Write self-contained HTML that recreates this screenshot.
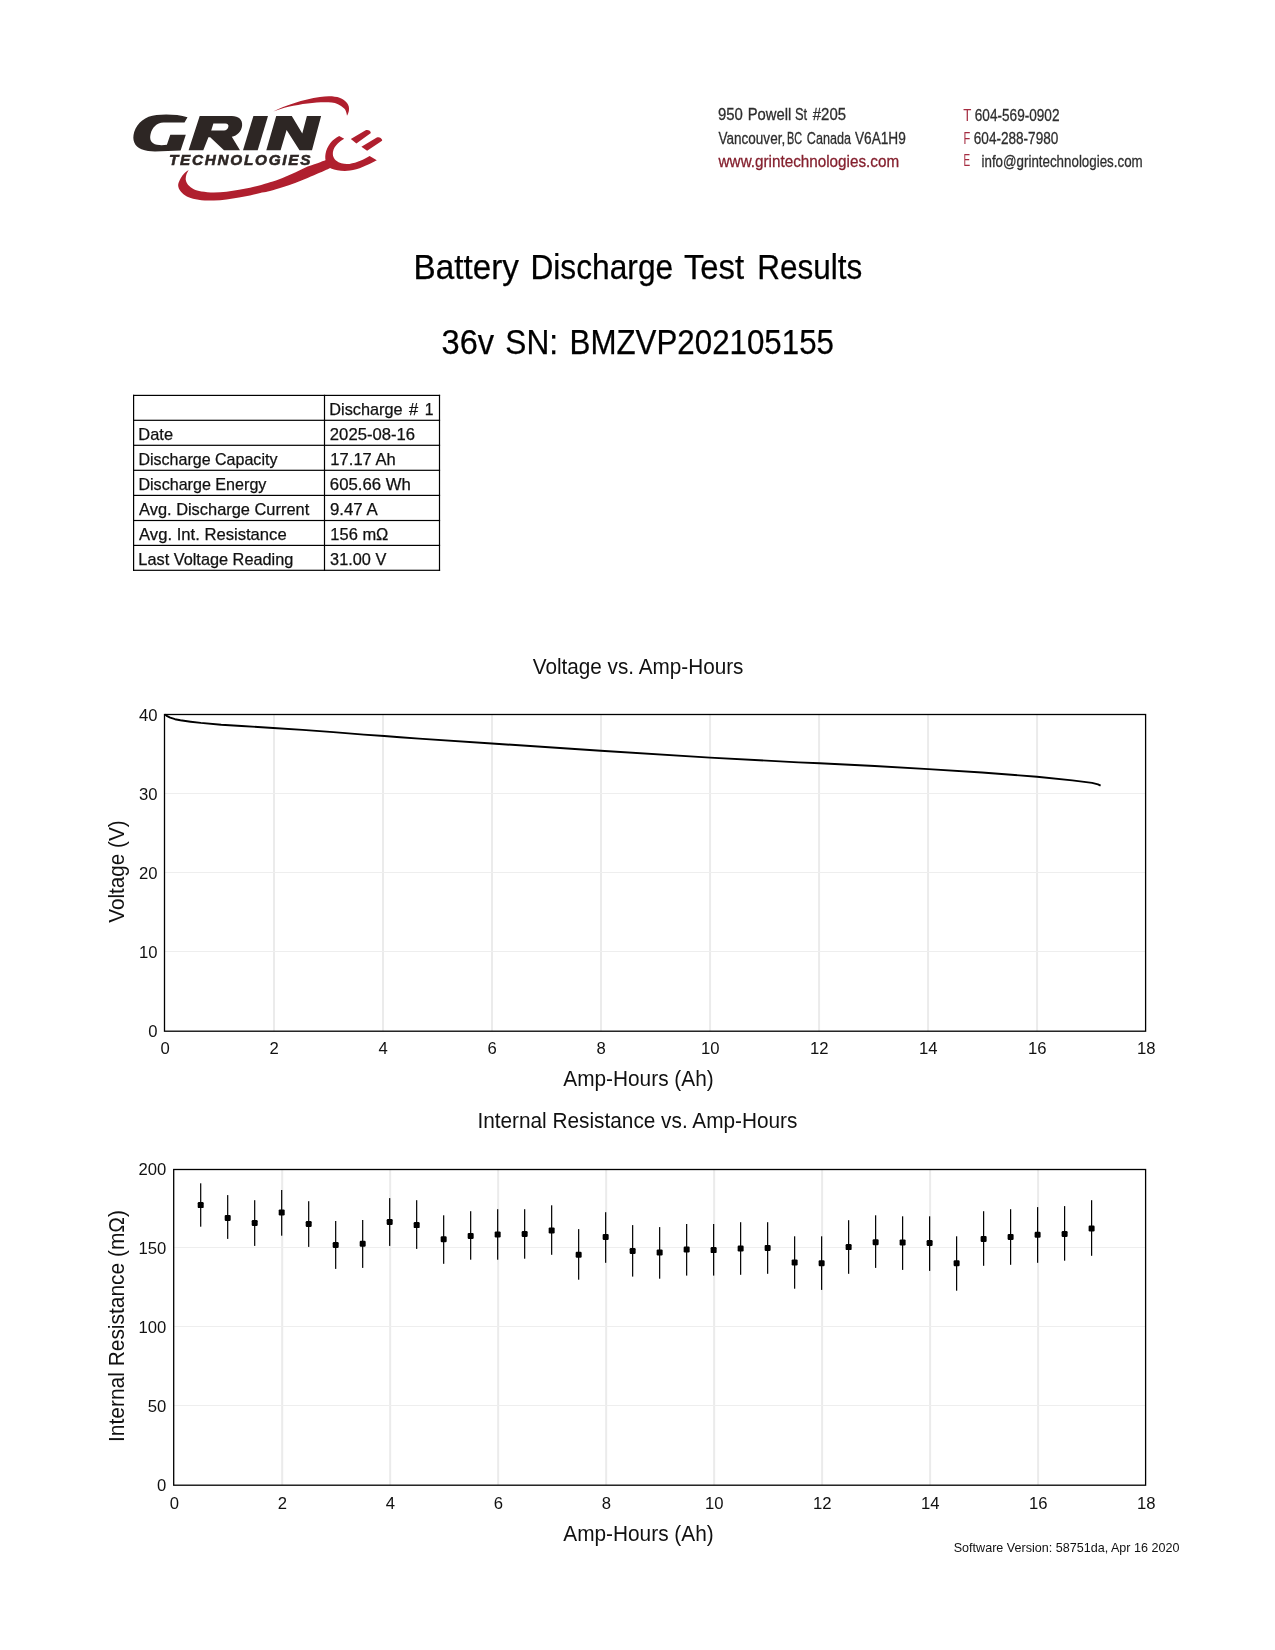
<!DOCTYPE html>
<html lang="en">
<head>
<meta charset="utf-8">
<title>Battery Discharge Test Results</title>
<style>
html,body{margin:0;padding:0;background:#fff;}
body{width:1275px;height:1650px;overflow:hidden;font-family:"Liberation Sans",sans-serif;}
svg{display:block;will-change:transform;font-family:"Liberation Sans",sans-serif;}
text{white-space:pre;}
</style>
</head>
<body>
<svg width="1275" height="1650" viewBox="0 0 1275 1650">
<rect width="1275" height="1650" fill="#fff"/>
<g id="logo">
<path d="M187.5,117.2 C178,114.4 165,114.2 156.5,115.1 C145,116.4 137.5,122.5 134.2,132 C131.8,140 134.5,146.5 141.5,149.3 C146,151 150,151.4 155,151.4 L180.6,150.4 L185.8,134.8 L170.3,134.8 L166.9,144.7 C164,145.3 160,145.4 157,144.8 C151,143.5 149.3,139.5 150.6,134 C152.3,127.5 156.5,123 163.5,122.6 L184.5,122.4 Z" fill="#2d2624" fill-rule="evenodd"/>
<path d="M199.7,116 L231.8,116 C238.6,116 242.7,119.6 242.1,125.7 C241.5,131.5 237.2,135.6 231.8,136.8 L240,150.3 L224,150.3 L210.2,137.3 L208.4,137.3 L203.3,150.3 L188.6,150.3 Z M213.4,123.6 L225.3,123.6 C227.8,123.6 228.9,125 228.3,127 C227.6,129.3 226.3,130.5 224,130.5 L211.2,130.5 Z" fill="#2d2624" fill-rule="evenodd"/>
<path d="M253.4,116 L268,116 L257.7,150.3 L243,150.3 Z" fill="#2d2624" fill-rule="evenodd"/>
<path d="M276.2,116 L291.8,116 L302.3,133.5 L306.9,116 L321.1,116 L312,150.3 L299.5,150.3 L286.6,130 L280.6,150.3 L266.3,150.3 Z" fill="#2d2624" fill-rule="evenodd"/>
<g transform="translate(168.9,165.4) scale(1.0,1)"><text x="0" y="0" font-size="15.3" font-weight="bold" font-style="italic" fill="#2d2624" stroke="#2d2624" stroke-width="0.6" textLength="141.6" lengthAdjust="spacing">TECHNOLOGIES</text></g>
<path d="M273.2,111.4 C285,105.5 303,99.5 319.9,97 C328,95.8 335,96.2 339.5,97.8 C346,100.5 350,105 348.9,110.7 C348.5,112.5 348,114 347,115.8 C346.5,112 345.5,109.5 344.2,108.4 C340,104.5 336,102.8 331.7,102.4 C320,101.5 304,103.2 288.5,106.8 C283,108 278,109.8 273.2,111.4 Z" fill="#b01f2e"/>
<path d="M188.7,169.9 C188.0,170.4 185.7,171.8 184.4,173.2 C183.1,174.6 181.7,176.3 180.7,178.2 C179.7,180.1 178.4,182.6 178.2,184.5 C178.0,186.4 178.5,187.8 179.4,189.5 C180.3,191.2 181.9,193.1 183.8,194.5 C185.7,195.9 187.8,197.1 190.7,198.0 C193.6,198.9 197.5,199.8 201.4,200.2 C205.3,200.6 209.7,200.5 213.9,200.4 C218.1,200.3 222.3,199.9 226.5,199.4 C230.7,198.9 235.1,198.2 239.0,197.6 C242.9,196.9 246.2,196.3 250.0,195.5 C253.8,194.7 258.7,193.4 262.0,192.6 C265.3,191.8 266.6,191.8 270.0,190.9 C273.4,190.0 278.3,188.5 282.5,187.2 C286.7,185.9 290.9,184.6 295.1,183.0 C299.3,181.4 303.4,179.6 307.6,177.9 C311.8,176.2 316.3,174.3 320.2,172.6 C324.1,170.9 329.2,168.6 331.0,167.8 L326.5,159.8 C325.4,160.2 323.3,161.1 320.2,162.2 C317.1,163.3 311.8,164.9 307.6,166.6 C303.4,168.3 299.3,170.7 295.1,172.6 C290.9,174.5 286.7,176.3 282.5,177.9 C278.3,179.5 273.4,181.2 270.0,182.3 C266.6,183.4 265.3,183.8 262.0,184.7 C258.7,185.6 253.8,186.8 250.0,187.7 C246.2,188.5 242.9,189.1 239.0,189.8 C235.1,190.5 230.7,191.3 226.5,191.7 C222.3,192.1 218.1,192.4 213.9,192.4 C209.7,192.4 204.8,191.9 201.4,191.4 C198.1,190.9 196.0,190.2 193.8,189.2 C191.6,188.1 189.5,186.6 188.2,185.1 C186.9,183.6 186.1,181.9 185.8,180.1 C185.5,178.3 185.9,176.1 186.4,174.4 C186.9,172.7 188.3,170.7 188.7,169.9 Z" fill="#b01f2e"/>
<path d="M339.2,136 L344.2,138.8 C340,141 335.5,145 333.6,149.5 C332,154 333,158 336,160.5 C340,163.8 345,164.3 349.5,163.9 C357,163 364,159.5 369.6,156.1 L376.8,160.2 C368,165 358,169.5 350,170.6 C343,171.4 336,170.5 331,168.5 C326.5,166 324.5,160 325.5,154 C327,146 332,139.5 339.2,136 Z" fill="#b01f2e"/>
<path d="M350.8,139.1 L365.2,130.4 C367.5,129.3 370,130.3 370.6,132 C370.9,133 370.6,133.4 370.2,133.6 L356.4,143.5 Z" fill="#b01f2e"/>
<path d="M361.4,146.7 L376.8,137.6 C379,136.6 381.5,138 382.2,140 C382.3,141 381.5,141.2 380.6,141.7 L367.1,150.7 Z" fill="#b01f2e"/>
</g>
<g id="header">
<text x="717.90" y="120.40" font-size="17.2" fill="#2e2e2e" textLength="24.88" lengthAdjust="spacingAndGlyphs" stroke="#2e2e2e" stroke-width="0.3">950</text>
<text x="747.69" y="120.40" font-size="17.2" fill="#2e2e2e" textLength="43.60" lengthAdjust="spacingAndGlyphs" stroke="#2e2e2e" stroke-width="0.3">Powell</text>
<text x="795.01" y="120.40" font-size="17.2" fill="#2e2e2e" textLength="12.18" lengthAdjust="spacingAndGlyphs" stroke="#2e2e2e" stroke-width="0.3">St</text>
<text x="812.83" y="120.40" font-size="17.2" fill="#2e2e2e" textLength="33.19" lengthAdjust="spacingAndGlyphs" stroke="#2e2e2e" stroke-width="0.3">#205</text>
<text x="718.54" y="143.80" font-size="17.2" fill="#2e2e2e" textLength="66.64" lengthAdjust="spacingAndGlyphs" stroke="#2e2e2e" stroke-width="0.3">Vancouver,</text>
<text x="787.11" y="143.80" font-size="17.2" fill="#2e2e2e" textLength="15.11" lengthAdjust="spacingAndGlyphs" stroke="#2e2e2e" stroke-width="0.3">BC</text>
<text x="806.86" y="143.80" font-size="17.2" fill="#2e2e2e" textLength="44.14" lengthAdjust="spacingAndGlyphs" stroke="#2e2e2e" stroke-width="0.3">Canada</text>
<text x="854.94" y="143.80" font-size="17.2" fill="#2e2e2e" textLength="50.91" lengthAdjust="spacingAndGlyphs" stroke="#2e2e2e" stroke-width="0.3">V6A1H9</text>
<text x="718.62" y="166.50" font-size="17.2" fill="#84202e" textLength="180.48" lengthAdjust="spacingAndGlyphs" stroke="#84202e" stroke-width="0.3">www.grintechnologies.com</text>
<text x="963.30" y="120.50" font-size="17.2" fill="#a42c40" textLength="8.10" lengthAdjust="spacingAndGlyphs">T</text>
<text x="974.81" y="120.50" font-size="17.2" fill="#2e2e2e" textLength="84.67" lengthAdjust="spacingAndGlyphs" stroke="#2e2e2e" stroke-width="0.3">604-569-0902</text>
<text x="963.49" y="143.80" font-size="17.2" fill="#a42c40" textLength="6.75" lengthAdjust="spacingAndGlyphs">F</text>
<text x="973.81" y="143.80" font-size="17.2" fill="#2e2e2e" textLength="84.52" lengthAdjust="spacingAndGlyphs" stroke="#2e2e2e" stroke-width="0.3">604-288-7980</text>
<text x="963.58" y="166.30" font-size="17.2" fill="#a42c40" textLength="6.65" lengthAdjust="spacingAndGlyphs">E</text>
<text x="981.51" y="166.50" font-size="17.2" fill="#2e2e2e" textLength="161.17" lengthAdjust="spacingAndGlyphs" stroke="#2e2e2e" stroke-width="0.3">info@grintechnologies.com</text>
</g>
<g id="titles">
<text x="413.57" y="278.60" font-size="34.2" fill="#000" textLength="105.39" lengthAdjust="spacingAndGlyphs" stroke="#000" stroke-width="0.25">Battery</text>
<text x="530.40" y="278.60" font-size="34.2" fill="#000" textLength="142.81" lengthAdjust="spacingAndGlyphs" stroke="#000" stroke-width="0.25">Discharge</text>
<text x="683.90" y="278.60" font-size="34.2" fill="#000" textLength="60.22" lengthAdjust="spacingAndGlyphs" stroke="#000" stroke-width="0.25">Test</text>
<text x="757.32" y="278.60" font-size="34.2" fill="#000" textLength="105.02" lengthAdjust="spacingAndGlyphs" stroke="#000" stroke-width="0.25">Results</text>
<text x="441.56" y="353.50" font-size="34.2" fill="#000" textLength="52.55" lengthAdjust="spacingAndGlyphs" stroke="#000" stroke-width="0.25">36v</text>
<text x="505.36" y="353.50" font-size="34.2" fill="#000" textLength="52.72" lengthAdjust="spacingAndGlyphs" stroke="#000" stroke-width="0.25">SN:</text>
<text x="569.53" y="353.50" font-size="34.2" fill="#000" textLength="264.48" lengthAdjust="spacingAndGlyphs" stroke="#000" stroke-width="0.25">BMZVP202105155</text>
</g>
<g id="table">
<rect x="133.00" y="394.80" width="307.10" height="1.2" fill="#000"/>
<rect x="133.00" y="419.70" width="307.10" height="1.2" fill="#000"/>
<rect x="133.00" y="444.70" width="307.10" height="1.2" fill="#000"/>
<rect x="133.00" y="469.70" width="307.10" height="1.2" fill="#000"/>
<rect x="133.00" y="494.80" width="307.10" height="1.2" fill="#000"/>
<rect x="133.00" y="519.90" width="307.10" height="1.2" fill="#000"/>
<rect x="133.00" y="544.80" width="307.10" height="1.2" fill="#000"/>
<rect x="133.00" y="569.70" width="307.10" height="1.2" fill="#000"/>
<rect x="133.00" y="394.80" width="1.2" height="176.10" fill="#000"/>
<rect x="323.90" y="394.80" width="1.2" height="176.10" fill="#000"/>
<rect x="438.90" y="394.80" width="1.2" height="176.10" fill="#000"/>
<text x="138.35" y="439.60" font-size="16.2" fill="#111" textLength="34.68" lengthAdjust="spacingAndGlyphs" stroke="#111" stroke-width="0.25">Date</text>
<text x="138.38" y="464.60" font-size="16.2" fill="#111" textLength="139.05" lengthAdjust="spacingAndGlyphs" stroke="#111" stroke-width="0.25">Discharge Capacity</text>
<text x="138.38" y="489.60" font-size="16.2" fill="#111" textLength="128.05" lengthAdjust="spacingAndGlyphs" stroke="#111" stroke-width="0.25">Discharge Energy</text>
<text x="139.07" y="514.60" font-size="16.2" fill="#111" textLength="170.15" lengthAdjust="spacingAndGlyphs" stroke="#111" stroke-width="0.25">Avg. Discharge Current</text>
<text x="139.07" y="539.60" font-size="16.2" fill="#111" textLength="147.57" lengthAdjust="spacingAndGlyphs" stroke="#111" stroke-width="0.25">Avg. Int. Resistance</text>
<text x="138.37" y="564.60" font-size="16.2" fill="#111" textLength="154.97" lengthAdjust="spacingAndGlyphs" stroke="#111" stroke-width="0.25">Last Voltage Reading</text>
<text x="329.37" y="414.50" font-size="16.2" fill="#111" textLength="73.26" lengthAdjust="spacingAndGlyphs" stroke="#111" stroke-width="0.25">Discharge</text>
<text x="409.13" y="414.50" font-size="16.2" fill="#111" textLength="9.15" lengthAdjust="spacingAndGlyphs" stroke="#111" stroke-width="0.25">#</text>
<text x="424.80" y="414.50" font-size="16.2" fill="#111" textLength="8.77" lengthAdjust="spacingAndGlyphs" stroke="#111" stroke-width="0.25">1</text>
<text x="329.86" y="439.50" font-size="16.2" fill="#111" textLength="85.17" lengthAdjust="spacingAndGlyphs" stroke="#111" stroke-width="0.25">2025-08-16</text>
<text x="330.36" y="464.50" font-size="16.2" fill="#111" textLength="65.41" lengthAdjust="spacingAndGlyphs" stroke="#111" stroke-width="0.25">17.17 Ah</text>
<text x="329.85" y="489.50" font-size="16.2" fill="#111" textLength="80.94" lengthAdjust="spacingAndGlyphs" stroke="#111" stroke-width="0.25">605.66 Wh</text>
<text x="329.92" y="514.50" font-size="16.2" fill="#111" textLength="47.81" lengthAdjust="spacingAndGlyphs" stroke="#111" stroke-width="0.25">9.47 A</text>
<text x="330.35" y="539.50" font-size="16.2" fill="#111" textLength="58.06" lengthAdjust="spacingAndGlyphs" stroke="#111" stroke-width="0.25">156 mΩ</text>
<text x="330.08" y="564.50" font-size="16.2" fill="#111" textLength="56.19" lengthAdjust="spacingAndGlyphs" stroke="#111" stroke-width="0.25">31.00 V</text>
</g>
<g id="chart1">
<rect x="273.01" y="714.50" width="2" height="316.70" fill="#ebebeb"/>
<rect x="382.02" y="714.50" width="2" height="316.70" fill="#ebebeb"/>
<rect x="491.03" y="714.50" width="2" height="316.70" fill="#ebebeb"/>
<rect x="600.04" y="714.50" width="2" height="316.70" fill="#ebebeb"/>
<rect x="709.06" y="714.50" width="2" height="316.70" fill="#ebebeb"/>
<rect x="818.07" y="714.50" width="2" height="316.70" fill="#ebebeb"/>
<rect x="927.08" y="714.50" width="2" height="316.70" fill="#ebebeb"/>
<rect x="1036.09" y="714.50" width="2" height="316.70" fill="#ebebeb"/>
<rect x="164.50" y="793" width="981.10" height="1" fill="#eeeeee"/>
<rect x="164.50" y="872" width="981.10" height="1" fill="#eeeeee"/>
<rect x="164.50" y="951" width="981.10" height="1" fill="#eeeeee"/>
<path d="M165.1,714.6 L167.2,716.2 L170.2,717.6 L175.0,719.2 L180.4,720.3 L190.6,721.7 L200.8,722.9 L221.2,724.8 L241.6,726.0 L273.2,728.0 L302.7,729.9 L333.3,732.1 L363.9,734.6 L384.3,736.0 L400.0,737.3 L419.0,738.6 L491.9,743.5 L600.8,750.7 L710.0,757.6 L798.4,762.4 L819.6,763.2 L874.7,766.0 L928.4,769.1 L982.0,772.5 L1037.0,776.7 L1072.3,780.4 L1092.1,782.9 L1098.0,784.4 L1100.6,785.7" fill="none" stroke="#000" stroke-width="1.9" stroke-linejoin="round"/>
<rect x="164.50" y="714.50" width="981.10" height="316.70" fill="none" stroke="#000" stroke-width="1.3"/>
<text x="165.10" y="1053.90" font-size="16.67" fill="#111" text-anchor="middle">0</text>
<text x="274.11" y="1053.90" font-size="16.67" fill="#111" text-anchor="middle">2</text>
<text x="383.12" y="1053.90" font-size="16.67" fill="#111" text-anchor="middle">4</text>
<text x="492.13" y="1053.90" font-size="16.67" fill="#111" text-anchor="middle">6</text>
<text x="601.14" y="1053.90" font-size="16.67" fill="#111" text-anchor="middle">8</text>
<text x="710.16" y="1053.90" font-size="16.67" fill="#111" text-anchor="middle">10</text>
<text x="819.17" y="1053.90" font-size="16.67" fill="#111" text-anchor="middle">12</text>
<text x="928.18" y="1053.90" font-size="16.67" fill="#111" text-anchor="middle">14</text>
<text x="1037.19" y="1053.90" font-size="16.67" fill="#111" text-anchor="middle">16</text>
<text x="1146.20" y="1053.90" font-size="16.67" fill="#111" text-anchor="middle">18</text>
<text x="157.50" y="720.60" font-size="16.67" fill="#111" text-anchor="end">40</text>
<text x="157.50" y="799.60" font-size="16.67" fill="#111" text-anchor="end">30</text>
<text x="157.50" y="878.80" font-size="16.67" fill="#111" text-anchor="end">20</text>
<text x="157.50" y="958.00" font-size="16.67" fill="#111" text-anchor="end">10</text>
<text x="157.50" y="1037.10" font-size="16.67" fill="#111" text-anchor="end">0</text>
<text x="532.71" y="673.80" font-size="21.3" fill="#111" textLength="210.73" lengthAdjust="spacingAndGlyphs">Voltage vs. Amp-Hours</text>
<text x="563.26" y="1085.90" font-size="21.3" fill="#111" textLength="150.43" lengthAdjust="spacingAndGlyphs">Amp-Hours (Ah)</text>
<text transform="translate(124.3,872.15) rotate(-90)" x="-50.64" y="0" font-size="21.3" fill="#111" textLength="102.46" lengthAdjust="spacingAndGlyphs">Voltage (V)</text>
</g>
<g id="chart2">
<rect x="281.19" y="1169.50" width="2" height="315.70" fill="#ebebeb"/>
<rect x="389.18" y="1169.50" width="2" height="315.70" fill="#ebebeb"/>
<rect x="497.17" y="1169.50" width="2" height="315.70" fill="#ebebeb"/>
<rect x="605.16" y="1169.50" width="2" height="315.70" fill="#ebebeb"/>
<rect x="713.14" y="1169.50" width="2" height="315.70" fill="#ebebeb"/>
<rect x="821.13" y="1169.50" width="2" height="315.70" fill="#ebebeb"/>
<rect x="929.12" y="1169.50" width="2" height="315.70" fill="#ebebeb"/>
<rect x="1037.11" y="1169.50" width="2" height="315.70" fill="#ebebeb"/>
<rect x="173.70" y="1247" width="971.90" height="1" fill="#eeeeee"/>
<rect x="173.70" y="1326" width="971.90" height="1" fill="#eeeeee"/>
<rect x="173.70" y="1405" width="971.90" height="1" fill="#eeeeee"/>
<rect x="200.10" y="1183.30" width="1.2" height="43.40" fill="#000"/>
<rect x="197.70" y="1202.10" width="6.0" height="6.0" rx="1.2" fill="#000"/>
<rect x="227.09" y="1195.10" width="1.2" height="43.80" fill="#000"/>
<rect x="224.69" y="1214.90" width="6.0" height="6.0" rx="1.2" fill="#000"/>
<rect x="254.09" y="1200.20" width="1.2" height="45.70" fill="#000"/>
<rect x="251.69" y="1220.00" width="6.0" height="6.0" rx="1.2" fill="#000"/>
<rect x="281.09" y="1190.00" width="1.2" height="45.70" fill="#000"/>
<rect x="278.69" y="1209.40" width="6.0" height="6.0" rx="1.2" fill="#000"/>
<rect x="308.09" y="1201.20" width="1.2" height="45.70" fill="#000"/>
<rect x="305.69" y="1221.00" width="6.0" height="6.0" rx="1.2" fill="#000"/>
<rect x="335.08" y="1221.00" width="1.2" height="47.90" fill="#000"/>
<rect x="332.68" y="1242.00" width="6.0" height="6.0" rx="1.2" fill="#000"/>
<rect x="362.08" y="1220.00" width="1.2" height="47.90" fill="#000"/>
<rect x="359.68" y="1240.80" width="6.0" height="6.0" rx="1.2" fill="#000"/>
<rect x="389.08" y="1198.10" width="1.2" height="47.80" fill="#000"/>
<rect x="386.68" y="1219.00" width="6.0" height="6.0" rx="1.2" fill="#000"/>
<rect x="416.07" y="1200.20" width="1.2" height="48.70" fill="#000"/>
<rect x="413.67" y="1222.10" width="6.0" height="6.0" rx="1.2" fill="#000"/>
<rect x="443.07" y="1215.30" width="1.2" height="48.50" fill="#000"/>
<rect x="440.67" y="1236.30" width="6.0" height="6.0" rx="1.2" fill="#000"/>
<rect x="470.07" y="1211.20" width="1.2" height="48.50" fill="#000"/>
<rect x="467.67" y="1232.90" width="6.0" height="6.0" rx="1.2" fill="#000"/>
<rect x="497.07" y="1209.20" width="1.2" height="50.50" fill="#000"/>
<rect x="494.67" y="1231.40" width="6.0" height="6.0" rx="1.2" fill="#000"/>
<rect x="524.06" y="1209.20" width="1.2" height="49.50" fill="#000"/>
<rect x="521.66" y="1231.00" width="6.0" height="6.0" rx="1.2" fill="#000"/>
<rect x="551.06" y="1205.30" width="1.2" height="49.50" fill="#000"/>
<rect x="548.66" y="1227.40" width="6.0" height="6.0" rx="1.2" fill="#000"/>
<rect x="578.06" y="1229.10" width="1.2" height="50.60" fill="#000"/>
<rect x="575.66" y="1251.80" width="6.0" height="6.0" rx="1.2" fill="#000"/>
<rect x="605.06" y="1212.20" width="1.2" height="50.60" fill="#000"/>
<rect x="602.66" y="1233.90" width="6.0" height="6.0" rx="1.2" fill="#000"/>
<rect x="632.05" y="1225.10" width="1.2" height="51.50" fill="#000"/>
<rect x="629.65" y="1248.00" width="6.0" height="6.0" rx="1.2" fill="#000"/>
<rect x="659.05" y="1227.10" width="1.2" height="51.60" fill="#000"/>
<rect x="656.65" y="1249.40" width="6.0" height="6.0" rx="1.2" fill="#000"/>
<rect x="686.05" y="1224.00" width="1.2" height="51.60" fill="#000"/>
<rect x="683.65" y="1246.50" width="6.0" height="6.0" rx="1.2" fill="#000"/>
<rect x="713.04" y="1224.00" width="1.2" height="51.60" fill="#000"/>
<rect x="710.64" y="1247.10" width="6.0" height="6.0" rx="1.2" fill="#000"/>
<rect x="740.04" y="1222.20" width="1.2" height="52.60" fill="#000"/>
<rect x="737.64" y="1245.50" width="6.0" height="6.0" rx="1.2" fill="#000"/>
<rect x="767.04" y="1222.20" width="1.2" height="51.60" fill="#000"/>
<rect x="764.64" y="1244.90" width="6.0" height="6.0" rx="1.2" fill="#000"/>
<rect x="794.04" y="1236.30" width="1.2" height="52.40" fill="#000"/>
<rect x="791.64" y="1259.40" width="6.0" height="6.0" rx="1.2" fill="#000"/>
<rect x="821.03" y="1236.30" width="1.2" height="53.60" fill="#000"/>
<rect x="818.63" y="1260.20" width="6.0" height="6.0" rx="1.2" fill="#000"/>
<rect x="848.03" y="1220.20" width="1.2" height="53.60" fill="#000"/>
<rect x="845.63" y="1244.10" width="6.0" height="6.0" rx="1.2" fill="#000"/>
<rect x="875.03" y="1215.30" width="1.2" height="52.60" fill="#000"/>
<rect x="872.63" y="1239.20" width="6.0" height="6.0" rx="1.2" fill="#000"/>
<rect x="902.02" y="1216.30" width="1.2" height="53.60" fill="#000"/>
<rect x="899.62" y="1239.40" width="6.0" height="6.0" rx="1.2" fill="#000"/>
<rect x="929.02" y="1216.30" width="1.2" height="54.60" fill="#000"/>
<rect x="926.62" y="1240.00" width="6.0" height="6.0" rx="1.2" fill="#000"/>
<rect x="956.02" y="1236.30" width="1.2" height="54.40" fill="#000"/>
<rect x="953.62" y="1260.20" width="6.0" height="6.0" rx="1.2" fill="#000"/>
<rect x="983.02" y="1211.20" width="1.2" height="54.60" fill="#000"/>
<rect x="980.62" y="1235.90" width="6.0" height="6.0" rx="1.2" fill="#000"/>
<rect x="1010.01" y="1209.20" width="1.2" height="55.60" fill="#000"/>
<rect x="1007.61" y="1233.90" width="6.0" height="6.0" rx="1.2" fill="#000"/>
<rect x="1037.01" y="1207.10" width="1.2" height="55.70" fill="#000"/>
<rect x="1034.61" y="1231.80" width="6.0" height="6.0" rx="1.2" fill="#000"/>
<rect x="1064.01" y="1206.10" width="1.2" height="54.60" fill="#000"/>
<rect x="1061.61" y="1231.00" width="6.0" height="6.0" rx="1.2" fill="#000"/>
<rect x="1091.01" y="1200.20" width="1.2" height="55.60" fill="#000"/>
<rect x="1088.61" y="1225.50" width="6.0" height="6.0" rx="1.2" fill="#000"/>
<rect x="173.70" y="1169.50" width="971.90" height="315.70" fill="none" stroke="#000" stroke-width="1.3"/>
<text x="174.30" y="1508.80" font-size="16.67" fill="#111" text-anchor="middle">0</text>
<text x="282.29" y="1508.80" font-size="16.67" fill="#111" text-anchor="middle">2</text>
<text x="390.28" y="1508.80" font-size="16.67" fill="#111" text-anchor="middle">4</text>
<text x="498.27" y="1508.80" font-size="16.67" fill="#111" text-anchor="middle">6</text>
<text x="606.26" y="1508.80" font-size="16.67" fill="#111" text-anchor="middle">8</text>
<text x="714.24" y="1508.80" font-size="16.67" fill="#111" text-anchor="middle">10</text>
<text x="822.23" y="1508.80" font-size="16.67" fill="#111" text-anchor="middle">12</text>
<text x="930.22" y="1508.80" font-size="16.67" fill="#111" text-anchor="middle">14</text>
<text x="1038.21" y="1508.80" font-size="16.67" fill="#111" text-anchor="middle">16</text>
<text x="1146.20" y="1508.80" font-size="16.67" fill="#111" text-anchor="middle">18</text>
<text x="166.30" y="1175.00" font-size="16.67" fill="#111" text-anchor="end">200</text>
<text x="166.30" y="1254.20" font-size="16.67" fill="#111" text-anchor="end">150</text>
<text x="166.30" y="1333.00" font-size="16.67" fill="#111" text-anchor="end">100</text>
<text x="166.30" y="1412.00" font-size="16.67" fill="#111" text-anchor="end">50</text>
<text x="166.30" y="1491.20" font-size="16.67" fill="#111" text-anchor="end">0</text>
<text x="477.39" y="1127.80" font-size="21.3" fill="#111" textLength="320.06" lengthAdjust="spacingAndGlyphs">Internal Resistance vs. Amp-Hours</text>
<text x="563.26" y="1541.00" font-size="21.3" fill="#111" textLength="150.43" lengthAdjust="spacingAndGlyphs">Amp-Hours (Ah)</text>
<text transform="translate(124.4,1325.7) rotate(-90)" x="-116.28" y="0" font-size="21.3" fill="#111" textLength="231.93" lengthAdjust="spacingAndGlyphs">Internal Resistance (mΩ)</text>
<text x="953.73" y="1551.80" font-size="12.8" fill="#111" textLength="225.76" lengthAdjust="spacingAndGlyphs">Software Version: 58751da, Apr 16 2020</text>
</g>
</svg>
</body>
</html>
